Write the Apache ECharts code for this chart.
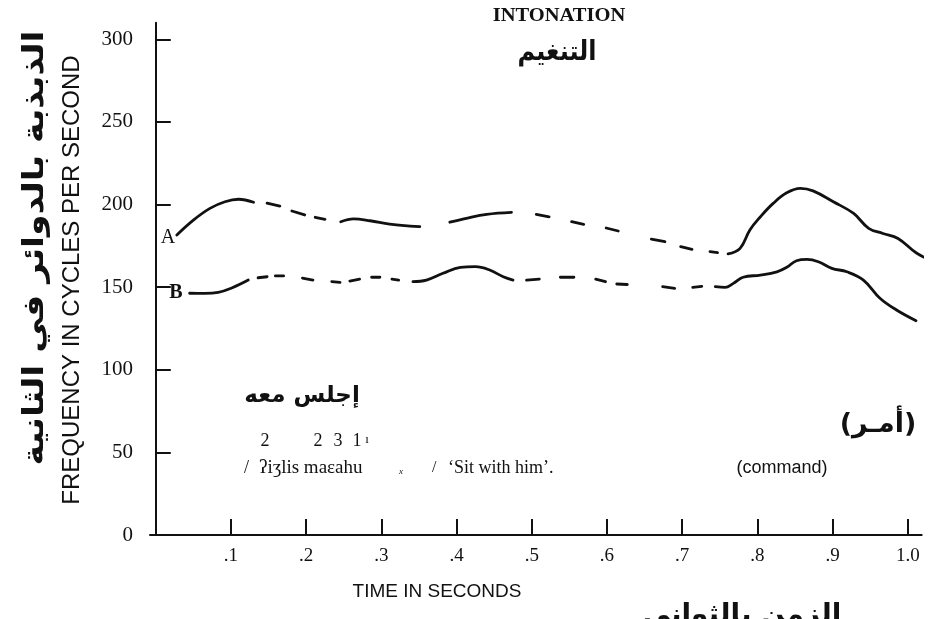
<!DOCTYPE html>
<html>
<head>
<meta charset="utf-8">
<script src="https://cdn.jsdelivr.net/npm/echarts@6/dist/echarts.min.js"></script>
<style>
  html, body { margin: 0; padding: 0; background: #fff; }
  #chart { width: 936px; height: 619px; }
</style>
</head>
<body>
<div id="chart"></div>
<script>
// Time axis (seconds) and frequency axis (cycles per second)
const timeTicks = [0.1, 0.2, 0.3, 0.4, 0.5, 0.6, 0.7, 0.8, 0.9, 1.0];
const timeTickLabels = ['.1', '.2', '.3', '.4', '.5', '.6', '.7', '.8', '.9', '1.0'];
const freqTicks = [0, 50, 100, 150, 200, 250, 300];

// Pitch trace A: each inner list is one drawn piece [time, frequency]
const traceA = [
  [[0.028, 181.6], [0.050, 190.6], [0.072, 197.7], [0.092, 201.7], [0.110, 203.2], [0.130, 201.4]],
  [[0.148, 200.8], [0.165, 199.1]],
  [[0.181, 196.1], [0.198, 193.7]],
  [[0.212, 192.3], [0.225, 191.1]],
  [[0.246, 189.6], [0.263, 191.3], [0.285, 190.2], [0.311, 188.2], [0.338, 187.0], [0.351, 186.6]],
  [[0.391, 189.3], [0.413, 191.7], [0.440, 194.1], [0.473, 195.3]],
  [[0.506, 194.1], [0.523, 192.6]],
  [[0.553, 189.6], [0.569, 188.0]],
  [[0.599, 185.8], [0.615, 184.0]],
  [[0.659, 179.1], [0.677, 177.5]],
  [[0.698, 174.5], [0.713, 172.9]],
  [[0.737, 171.5], [0.747, 170.9]],
  [[0.761, 170.1], [0.777, 173.5], [0.790, 184.6], [0.804, 192.6], [0.821, 200.7], [0.839, 207.1],
   [0.857, 209.8], [0.874, 208.3], [0.901, 201.7], [0.928, 194.6], [0.948, 185.6], [0.967, 182.5],
   [0.987, 179.5], [1.012, 170.5], [1.036, 165.4]]
];

// Pitch trace B
const traceB = [
  [[0.045, 146.3], [0.065, 146.2], [0.083, 146.8], [0.101, 149.5], [0.123, 154.3]],
  [[0.136, 155.7], [0.148, 156.3]],
  [[0.159, 156.8], [0.170, 156.8]],
  [[0.195, 155.5], [0.209, 154.3]],
  [[0.234, 153.3], [0.245, 152.9]],
  [[0.258, 153.7], [0.271, 154.8]],
  [[0.287, 156.0], [0.298, 156.0]],
  [[0.314, 154.8], [0.323, 154.3]],
  [[0.342, 153.3], [0.360, 154.3], [0.382, 158.4], [0.405, 162.0], [0.425, 162.4], [0.444, 160.4],
   [0.462, 156.3], [0.475, 154.3]],
  [[0.493, 154.3], [0.510, 154.9]],
  [[0.538, 156.0], [0.556, 156.0]],
  [[0.585, 154.8], [0.598, 153.3]],
  [[0.613, 151.9], [0.627, 151.6]],
  [[0.674, 150.3], [0.690, 149.3]],
  [[0.714, 149.9], [0.726, 150.5]],
  [[0.744, 150.3], [0.757, 149.9], [0.768, 152.3], [0.781, 156.0], [0.804, 157.3], [0.826, 159.3],
   [0.839, 162.0], [0.852, 166.0], [0.866, 166.8], [0.881, 165.4], [0.899, 161.4], [0.919, 159.3],
   [0.941, 154.3], [0.963, 143.3], [0.985, 136.2], [1.011, 129.7]]
];

// Join the pieces into one list, with a gap between pieces
function joinPieces(pieces) {
  const out = [];
  pieces.forEach((p, i) => {
    if (i > 0) out.push([p[0][0], null]);
    p.forEach(pt => out.push(pt));
  });
  return out;
}

const SERIF = '"Liberation Serif", "DejaVu Serif", serif';
const SANS = '"Liberation Sans", "DejaVu Sans", sans-serif';
const ARABIC = '"DejaVu Sans", sans-serif';
const INK = '#111';

const chart = echarts.init(document.getElementById('chart'), null, { renderer: 'canvas' });

const lineSeries = (name, pieces) => ({
  name,
  type: 'line',
  data: joinPieces(pieces),
  smooth: 0.4,
  connectNulls: false,
  showSymbol: false,
  clip: false,
  lineStyle: { color: INK, width: 2.8, cap: 'round', join: 'round' },
  silent: true
});

const txt = (x, y, text, font, extra, align) => Object.assign({
  type: 'text', x, y, silent: true,
  style: { text, fill: INK, font, align: align || 'center', verticalAlign: 'middle' }
}, extra || {});

chart.setOption({
  animation: false,
  backgroundColor: '#fff',
  grid: { left: 150, right: 14.3, top: 22.8, bottom: 84 },
  xAxis: {
    type: 'value',
    min: -0.0077,
    max: 1.0185,
    axisLine: { show: true, lineStyle: { color: INK, width: 2 } },
    axisTick: { show: true, inside: true, length: 16, customValues: timeTicks,
                lineStyle: { color: INK, width: 2 } },
    axisLabel: {
      customValues: timeTicks,
      formatter: v => timeTickLabels[timeTicks.findIndex(t => Math.abs(t - v) < 1e-6)] || '',
      color: INK, fontFamily: SERIF, fontSize: 19, margin: 12
    },
    splitLine: { show: false }
  },
  yAxis: {
    type: 'value',
    min: 0,
    max: 310,
    axisLine: { show: true, lineStyle: { color: INK, width: 2 } },
    axisTick: { show: true, inside: true, length: 15, customValues: freqTicks,
                lineStyle: { color: INK, width: 2 } },
    axisLabel: {
      customValues: freqTicks,
      color: INK, fontFamily: SERIF, fontSize: 21, margin: 17,
      padding: [0, 0, 17, 0]
    },
    splitLine: { show: false }
  },
  graphic: [
    // titles
    txt(559, 16, 'INTONATION', 'bold 18px ' + SERIF, { scaleX: 1.14 }),
    txt(557, 53, 'التنغيم', 'bold 24px ' + ARABIC, { scaleY: 1.15 }),
    // vertical axis names
    txt(35, 248, 'الذبذبة بالدوائر في الثانية', 'bold 29px ' + ARABIC, { rotation: Math.PI / 2, scaleX: 1.2 }),
    txt(72, 280, 'FREQUENCY IN CYCLES PER SECOND', '24px ' + SANS, { rotation: Math.PI / 2 }),
    // curve names
    txt(168, 238, 'A', '20px ' + SERIF),
    txt(176, 293, 'B', 'bold 20px ' + SERIF),
    // utterance block
    txt(302, 396, 'إجلس معه', 'bold 23px ' + ARABIC),
    txt(265, 441, '2', '18px ' + SERIF),
    txt(318, 441, '2', '18px ' + SERIF),
    txt(338, 441, '3', '18px ' + SERIF),
    txt(357, 441, '1', '18px ' + SERIF),
    txt(367, 440, 'ı', '13px ' + SERIF),
    txt(244, 468, '/', '18px ' + SERIF, null, 'left'),
    txt(259, 468, 'ʔiʒlis maɛahu', '19px ' + SERIF, null, 'left'),
    txt(401, 472, 'x', 'italic 9px ' + SERIF),
    txt(432, 468, '/', '16px ' + SERIF, null, 'left'),
    txt(448, 468, '‘Sit with him’.', '18px ' + SERIF, null, 'left'),
    txt(782, 468, '(command)', '18px ' + SANS),
    txt(878, 425, '(أمـر)', 'bold 27px ' + ARABIC),
    // horizontal axis names
    txt(437, 592, 'TIME IN SECONDS', '19px ' + SANS),
    txt(742, 616, 'الزمن بالثواني', 'bold 28px ' + ARABIC)
  ],
  series: [lineSeries('A', traceA), lineSeries('B', traceB)]
});
</script>
</body>
</html>
